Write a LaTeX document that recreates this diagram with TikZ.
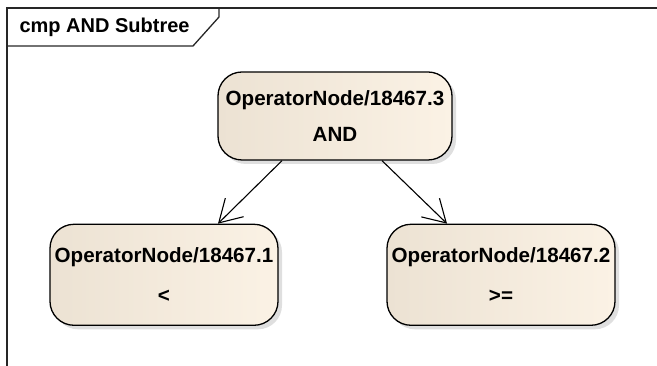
\documentclass[tikz,border=0pt]{standalone}
\usepackage{fontspec}
\setmainfont{Liberation Sans}
\usetikzlibrary{arrows.meta,shadows,calc,positioning}
\definecolor{nodeleft}{RGB}{236,226,211}
\definecolor{noderight}{RGB}{251,242,229}
\begin{document}
\begin{tikzpicture}
[x=1pt,y=1pt,
opnode/.style={shape=rectangle,rounded corners=24pt,draw=black,line width=1.3pt,
left color=nodeleft,right color=noderight,
drop shadow={shadow xshift=4pt,shadow yshift=-4pt,fill=black!25},
minimum width=228pt,minimum height=101pt,inner sep=0pt,align=center,
font=\fontsize{20.6}{24}\selectfont\bfseries},
myedge/.style={-{Straight Barb[length=22pt,width=26pt]},line width=1.1pt},
framel/.style={draw=black!85,line width=1.3pt}]
\useasboundingbox (0,0) rectangle (657,366);
%%%%%%%%%%
%%%%% frame
\draw[framel] (7,0) -- (7,358) -- (657,358);
\draw[framel] (219,358) -- (219,349) -- (193,320) -- (7,320);
\node (title) [anchor=west,font=\fontsize{20}{24}\selectfont\bfseries]
at (16,339) {cmp AND Subtree};
%%%%% tree
%% vertices
\node (op3) [opnode,minimum width=234pt,minimum height=88pt] at (335,250)
{OperatorNode/18467.3\\[12pt]AND};
\node (op1) [opnode,below=63pt of op3.south,xshift=-171pt]
{OperatorNode/18467.1\\[16pt]<};
\node (op2) [opnode,below=63pt of op3.south,xshift=166pt]
{OperatorNode/18467.2\\[16pt]>=};
%% edges
\draw[myedge] ($(op3.south)+(-53,0)$) -- ($(op1.north)+(54,0)$);
\draw[myedge] ($(op3.south)+(47,0)$) -- ($(op2.north)+(-54,0)$);
%%
\end{tikzpicture}
\end{document}
